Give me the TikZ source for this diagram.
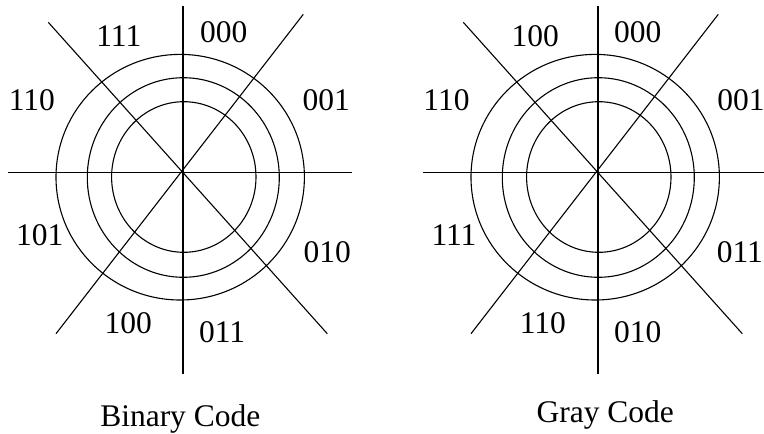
\documentclass[tikz,border=0pt]{standalone}
\usepackage{fontspec}
\setmainfont{Liberation Serif}
\begin{document}
\begin{tikzpicture}[x=1pt,y=-1pt,
  wire/.style={line width=1.1pt,black},
  lbl/.style={anchor=base,inner sep=0pt,font=\fontsize{31.5}{36}\selectfont},
  ring/.style={line width=1.1pt,black}]
\useasboundingbox (0,0) rectangle (764,434);
\foreach \dx in {0,415}{
  \begin{scope}[xshift=\dx pt]
    \draw[ring] (180.2,177.2) ellipse [x radius=124.2, y radius=122.8];
    \draw[ring] (183.3,177.5) ellipse [x radius=96, y radius=99.8];
    \draw[ring] (183.8,177) ellipse [x radius=72.2, y radius=75.3];
    \coordinate (vt) at (183,6);
    \coordinate (vb) at (183,374);
    \coordinate (hl) at (8.3,172.7);
    \coordinate (hr) at (351.7,172.7);
    \coordinate (d1a) at (48.3,22.3);
    \coordinate (d1b) at (327.3,333.7);
    \coordinate (d2a) at (303.3,14.3);
    \coordinate (d2b) at (56,333.7);
    \draw[wire] (vt) -- (vb);
    \draw[wire] (hl) -- (hr);
    \draw[wire] (d1a) -- (d1b);
    \draw[wire] (d2a) -- (d2b);
  \end{scope}
}
% Binary code labels
\node[lbl] (b111) at (118.8,46) {111};
\node[lbl] (b000) at (223.7,42.7) {000};
\node[lbl] (b110) at (31.8,110.7) {110};
\node[lbl] (b001) at (326.2,110.7) {001};
\node[lbl] (b101) at (39.7,245.3) {101};
\node[lbl] (b010) at (327.3,262) {010};
\node[lbl] (b100) at (128.3,333.7) {100};
\node[lbl] (b011) at (222.2,342) {011};
\node[lbl] (btitle) at (180.3,426.3) {Binary Code};
% Gray code labels
\node[lbl] (g100) at (535.3,46) {100};
\node[lbl] (g000) at (637.8,42.7) {000};
\node[lbl] (g110) at (446.5,110.7) {110};
\node[lbl] (g001) at (741,110.7) {001};
\node[lbl] (g111) at (454,245.3) {111};
\node[lbl] (g011) at (739.8,262) {011};
\node[lbl] (g110b) at (542.8,333.7) {110};
\node[lbl] (g010) at (637.8,342) {010};
\node[lbl] (gtitle) at (605.3,422) {Gray Code};
\end{tikzpicture}
\end{document}
